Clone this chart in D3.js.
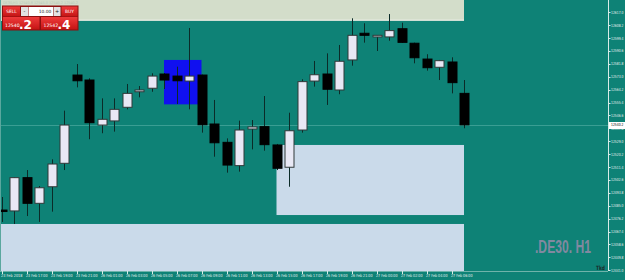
<!DOCTYPE html>
<html>
<head>
<meta charset="utf-8">
<script src="https://cdn.jsdelivr.net/npm/d3@7"></script>
<style>
  html, body { margin: 0; padding: 0; background: #0e8276; overflow: hidden; }
  svg { display: block; }
</style>
</head>
<body>
<div class="js-chart"></div>
<script>
// DE30 H1, 23 Feb 2018 15:00 .. 27 Feb 2018
var symbol = '.DE30. H1';
var bid = 12540.2, ask = 12542.4, lots = '10.00';

var opens  = [12482.1, 12481.5, 12504.2, 12486.7, 12498.0, 12514.0, 12574.2, 12570.8, 12540.1, 12542.9,
              12552.2, 12562.8, 12565.2, 12574.9, 12573.5, 12570.1, 12574.2, 12540.8, 12528.3, 12512.4,
              12537.4, 12539.0, 12526.5, 12511.3, 12536.7, 12570.1, 12574.9, 12564.0, 12584.5, 12602.7,
              12600.2, 12600.2, 12605.8, 12595.9, 12585.1, 12579.5, 12583.1, 12561.7];
var highs  = [12491.0, 12504.6, 12509.4, 12498.5, 12516.7, 12549.9, 12581.7, 12572.0, 12558.3, 12558.3,
              12568.1, 12566.7, 12575.4, 12575.6, 12579.9, 12606.3, 12574.5, 12557.2, 12531.0, 12543.1,
              12543.5, 12559.9, 12527.2, 12548.5, 12571.3, 12583.8, 12589.0, 12594.7, 12612.9, 12609.5,
              12601.5, 12615.8, 12609.9, 12596.3, 12588.4, 12584.5, 12586.3, 12570.8];
var lows   = [12474.0, 12472.6, 12478.0, 12474.0, 12481.0, 12509.4, 12565.8, 12530.4, 12534.5, 12535.6,
              12550.8, 12559.0, 12562.8, 12564.7, 12554.4, 12550.8, 12534.9, 12518.5, 12507.6, 12508.3,
              12523.5, 12522.6, 12509.4, 12498.0, 12534.9, 12566.3, 12553.8, 12561.1, 12580.6, 12596.3,
              12590.6, 12597.6, 12596.1, 12582.2, 12577.2, 12570.8, 12561.7, 12537.9];
var closes = [12481.1, 12504.2, 12486.7, 12497.3, 12513.5, 12540.1, 12570.3, 12541.7, 12544.0, 12550.8,
              12561.7, 12564.0, 12573.5, 12570.8, 12570.3, 12573.5, 12540.3, 12528.0, 12512.8, 12536.7,
              12538.8, 12526.7, 12510.6, 12536.2, 12569.7, 12574.4, 12564.5, 12583.6, 12601.3, 12601.3,
              12601.3, 12604.5, 12596.5, 12586.0, 12579.2, 12584.0, 12569.0, 12540.2];

var priceTicks = [12441.0, 12449.8, 12458.6, 12467.4, 12476.2, 12485.0, 12493.8, 12502.6, 12511.4, 12520.2,
                  12529.0, 12537.8, 12546.6, 12555.4, 12564.2, 12573.0, 12581.8, 12590.6, 12599.4, 12608.2,
                  12617.0];

var timeTickBars   = [0, 2, 4, 6, 8, 10, 12, 14, 16, 18, 20, 22, 24, 26, 28, 30, 32, 34, 36];
var timeTickLabels = ['23 Feb 2018', '23 Feb 17:00', '23 Feb 19:00', '23 Feb 21:00', '26 Feb 01:00',
                      '26 Feb 03:00', '26 Feb 05:00', '26 Feb 07:00', '26 Feb 09:00', '26 Feb 11:00',
                      '26 Feb 13:00', '26 Feb 15:00', '26 Feb 17:00', '26 Feb 19:00', '26 Feb 21:00',
                      '27 Feb 00:00', '27 Feb 02:00', '27 Feb 04:00', '27 Feb 06:00'];

// drawn objects: supply/demand zones in bar/price coordinates
var zoneStart  = [-1, 22, -1, 13];
var zoneEnd    = [37, 37, 37, 16];
var zoneTop    = [12626.0, 12526.5, 12472.6, 12584.5];
var zoneBottom = [12611.3, 12478.7, 12430.0, 12554.2];
var zoneKind   = ['supply', 'demand', 'demand', 'box'];

var width = 625, height = 280,
    plotRight = 608, plotBottom = 271;

var zoneFill = { supply: '#d3ddca', demand: '#cadaea', box: '#1010f0' };

var x = d3.scaleLinear().domain([0, 48]).range([1.5, 601.5]);
var y = d3.scaleLinear().domain([12441.0, 12617.0]).range([270.3, 12.3]);

var svg = d3.select('.js-chart').append('svg')
            .attr('width', width)
            .attr('height', height)
            .style('font-family', '"DejaVu Sans", sans-serif');

svg.append('rect')
   .attr('width', width).attr('height', height)
   .attr('fill', '#0e8276');

svg.append('defs').append('clipPath').attr('id', 'plot')
   .append('rect').attr('x', 0).attr('y', 0)
   .attr('width', plotRight).attr('height', plotBottom);

var plot = svg.append('g').attr('clip-path', 'url(#plot)');

// zones
plot.selectAll('rect.zone')
    .data(d3.range(zoneStart.length))
    .enter().append('rect')
    .attr('class', 'zone')
    .attr('x', function (i) { return x(zoneStart[i]); })
    .attr('y', function (i) { return y(zoneTop[i]); })
    .attr('width', function (i) { return x(zoneEnd[i]) - x(zoneStart[i]); })
    .attr('height', function (i) { return y(zoneBottom[i]) - y(zoneTop[i]); })
    .attr('fill', function (i) { return zoneFill[zoneKind[i]]; });

// thin light border under the top zone
plot.append('line')
    .attr('x1', x(-1)).attr('x2', x(37))
    .attr('y1', y(zoneBottom[0]) - 0.5).attr('y2', y(zoneBottom[0]) - 0.5)
    .attr('stroke', '#f2f2ea').attr('stroke-width', 1);

// bid line
plot.append('line')
    .attr('x1', 0).attr('x2', plotRight)
    .attr('y1', Math.round(y(bid)) + 0.5).attr('y2', Math.round(y(bid)) + 0.5)
    .attr('stroke', '#3a9e93').attr('stroke-width', 1);

// candles
var bars = d3.range(opens.length);
var bodyW = 9;

plot.selectAll('line.wick')
    .data(bars)
    .enter().append('line')
    .attr('class', 'wick')
    .attr('x1', function (i) { return Math.round(x(i)) + 0.5; })
    .attr('x2', function (i) { return Math.round(x(i)) + 0.5; })
    .attr('y1', function (i) { return y(highs[i]); })
    .attr('y2', function (i) { return y(lows[i]); })
    .attr('stroke', '#0b2b28')
    .attr('stroke-width', 1);

plot.selectAll('rect.body')
    .data(bars)
    .enter().append('rect')
    .attr('class', 'body')
    .attr('x', function (i) { return Math.round(x(i)) - bodyW / 2 + 0.5; })
    .attr('y', function (i) { return y(Math.max(opens[i], closes[i])); })
    .attr('width', bodyW)
    .attr('height', function (i) {
      return Math.max(1, Math.abs(y(opens[i]) - y(closes[i])));
    })
    .attr('fill', function (i) { return closes[i] >= opens[i] ? '#e8e8f5' : '#000000'; })
    .attr('stroke', function (i) { return closes[i] >= opens[i] ? '#303838' : '#000000'; })
    .attr('stroke-width', 1);

// watermark
svg.append('text')
   .attr('x', 535).attr('y', 253)
   .attr('textLength', 56).attr('lengthAdjust', 'spacingAndGlyphs')
   .attr('font-family', '"Liberation Sans", Arial, sans-serif')
   .attr('font-weight', 'bold').attr('font-size', 18)
   .attr('fill', '#8189a0')
   .text(symbol);

svg.append('text')
   .attr('x', 596).attr('y', 270)
   .attr('textLength', 9).attr('lengthAdjust', 'spacingAndGlyphs')
   .attr('font-size', 6).attr('font-weight', 'bold')
   .attr('fill', '#1a2a2a')
   .text('Tkd');

// frame lines
svg.append('line')
   .attr('x1', 0).attr('x2', plotRight)
   .attr('y1', plotBottom + 0.5).attr('y2', plotBottom + 0.5)
   .attr('stroke', '#6fb3aa');
svg.append('line')
   .attr('x1', plotRight + 0.5).attr('x2', plotRight + 0.5)
   .attr('y1', 0).attr('y2', plotBottom)
   .attr('stroke', '#d8ece8');
svg.append('line')
   .attr('x1', 0.5).attr('x2', 0.5)
   .attr('y1', 0).attr('y2', plotBottom)
   .attr('stroke', '#5aa79e');

// price axis
var priceAxis = svg.append('g').attr('class', 'price-axis');
priceAxis.selectAll('line')
         .data(priceTicks)
         .enter().append('line')
         .attr('x1', plotRight).attr('x2', plotRight + 2.5)
         .attr('y1', function (d) { return Math.round(y(d)) + 0.5; })
         .attr('y2', function (d) { return Math.round(y(d)) + 0.5; })
         .attr('stroke', '#d8ece8');
priceAxis.selectAll('text')
         .data(priceTicks)
         .enter().append('text')
         .attr('x', plotRight + 3)
         .attr('y', function (d) { return y(d); })
         .attr('dy', '0.35em')
         .attr('font-size', 4.2)
         .attr('textLength', 12.5).attr('lengthAdjust', 'spacingAndGlyphs')
         .attr('fill', '#e4f0ee')
         .text(function (d) { return d.toFixed(1); });

priceAxis.append('rect')
         .attr('x', plotRight + 1).attr('y', Math.round(y(bid)) - 3)
         .attr('width', width - plotRight - 1).attr('height', 7)
         .attr('fill', '#ffffff');
priceAxis.append('text')
         .attr('x', plotRight + 3).attr('y', y(bid))
         .attr('dy', '0.35em')
         .attr('font-size', 4.2)
         .attr('textLength', 12.5).attr('lengthAdjust', 'spacingAndGlyphs')
         .attr('fill', '#000000')
         .text(bid.toFixed(1));

// time axis
var timeAxis = svg.append('g').attr('class', 'time-axis');
timeAxis.selectAll('line')
        .data(timeTickBars)
        .enter().append('line')
        .attr('x1', function (b) { return Math.round(x(b)) + 0.5; })
        .attr('x2', function (b) { return Math.round(x(b)) + 0.5; })
        .attr('y1', plotBottom).attr('y2', plotBottom + 3)
        .attr('stroke', '#d8ece8');
timeAxis.selectAll('text')
        .data(timeTickBars)
        .enter().append('text')
        .attr('x', function (b) { return x(b) - 0.5; })
        .attr('y', 277)
        .attr('font-size', 4.2)
        .attr('textLength', 21.5).attr('lengthAdjust', 'spacingAndGlyphs')
        .attr('fill', '#e4f0ee')
        .text(function (b, k) { return timeTickLabels[k]; });

// one-click trading panel
svg.append('text')
   .attr('x', 3).attr('y', 3.5)
   .attr('font-size', 3.6)
   .attr('textLength', 75).attr('lengthAdjust', 'spacingAndGlyphs')
   .attr('fill', '#b9c8b8')
   .text('DE30,H1  12540.8 12545.0 12540.2 12540.2');

var grad = svg.select('defs').append('linearGradient')
              .attr('id', 'red').attr('x1', 0).attr('x2', 0).attr('y1', 0).attr('y2', 1);
grad.append('stop').attr('offset', '0%').attr('stop-color', '#ef3b3b');
grad.append('stop').attr('offset', '100%').attr('stop-color', '#c41414');

var panel = svg.append('g').attr('class', 'panel');
panel.append('rect')
     .attr('x', 2).attr('y', 5.5).attr('width', 76.5).attr('height', 25)
     .attr('fill', '#8b0f0f');
panel.append('rect')
     .attr('x', 3).attr('y', 6.5).attr('width', 17).attr('height', 10)
     .attr('fill', 'url(#red)');
panel.append('rect')
     .attr('x', 61.5).attr('y', 6.5).attr('width', 16).attr('height', 10)
     .attr('fill', 'url(#red)');
panel.append('rect')
     .attr('x', 21).attr('y', 7).attr('width', 7).attr('height', 9)
     .attr('fill', '#e3e3e3');
panel.append('rect')
     .attr('x', 53.5).attr('y', 7).attr('width', 7).attr('height', 9)
     .attr('fill', '#e3e3e3');
panel.append('rect')
     .attr('x', 28.5).attr('y', 7).attr('width', 24.5).attr('height', 9)
     .attr('fill', '#ffffff');
panel.append('rect')
     .attr('x', 3).attr('y', 17).attr('width', 36.5).attr('height', 12.5)
     .attr('fill', 'url(#red)');
panel.append('rect')
     .attr('x', 41).attr('y', 17).attr('width', 36.5).attr('height', 12.5)
     .attr('fill', 'url(#red)');

var small = function (tx, ty, str, col, size, anchor) {
  panel.append('text')
       .attr('x', tx).attr('y', ty)
       .attr('font-size', size)
       .attr('text-anchor', anchor || 'start')
       .attr('fill', col)
       .text(str);
};
small(11.5, 13, 'SELL', '#ffffff', 4.4, 'middle');
small(69.5, 13, 'BUY', '#ffffff', 4.4, 'middle');
small(24.5, 13, '-', '#222222', 5, 'middle');
small(57, 13, '+', '#222222', 5, 'middle');
small(45, 13, lots, '#222222', 4.4, 'middle');

var splitPrice = function (p) {
  var s = p.toFixed(1);
  return [s.slice(0, s.length - 2), s.slice(s.length - 2)];
};
var b = splitPrice(bid), a = splitPrice(ask);
small(5, 27, b[0], '#ffffff', 4.6);
small(43.5, 27, a[0], '#ffffff', 4.6);
panel.append('text').attr('x', 19).attr('y', 28.5)
     .attr('font-size', 12).attr('font-weight', 'bold').attr('fill', '#ffffff')
     .text(b[1]);
panel.append('text').attr('x', 57.5).attr('y', 28.5)
     .attr('font-size', 12).attr('font-weight', 'bold').attr('fill', '#ffffff')
     .text(a[1]);
</script>
</body>
</html>
